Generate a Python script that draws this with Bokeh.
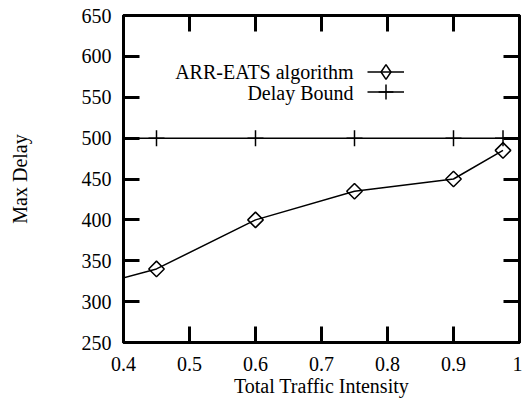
import math
from bokeh.plotting import figure
from bokeh.models import (FixedTicker, LinearAxis, Range1d, Legend, LegendItem,
                          Label, PrintfTickFormatter)
from bokeh.core.properties import value
from bokeh.embed import file_html
from bokeh.resources import INLINE

# ---- data ----
traffic = [0.3, 0.45, 0.6, 0.75, 0.9, 0.975]
max_delay = [307, 340, 400, 435, 450, 485]
bound_traffic = [0.3, 0.45, 0.6, 0.75, 0.9, 0.975, 1.05]
delay_bound = [500, 500, 500, 500, 500, 500, 500]
x_ticks = [0.4, 0.5, 0.6, 0.7, 0.8, 0.9, 1.0]
y_ticks = [250, 300, 350, 400, 450, 500, 550, 600, 650]
series_names = ["ARR-EATS algorithm", "Delay Bound"]
x_title = "Total Traffic Intensity"
y_title = "Max Delay"

FONT = "Liberation Serif"
FS = "20px"

p = figure(width=522, height=399,
           x_range=Range1d(0.4, 1.0), y_range=Range1d(250, 650),
           output_backend="svg", toolbar_location=None,
           x_axis_label=x_title, y_axis_label=y_title,
           min_border_left=123, min_border_right=3, min_border_top=15,
           min_border_bottom=55)
p.grid.visible = False
p.outline_line_color = "black"
p.outline_line_width = 3
p.background_fill_color = "white"
p.border_fill_color = "white"

top_axis = LinearAxis()
right_axis = LinearAxis()
p.add_layout(top_axis, "above")
p.add_layout(right_axis, "right")

bottom_axis = p.below[0]
left_axis = p.left[0]

for ax, ticks in ((bottom_axis, x_ticks), (top_axis, x_ticks),
                  (left_axis, y_ticks), (right_axis, y_ticks)):
    ax.ticker = FixedTicker(ticks=ticks)
    ax.formatter = PrintfTickFormatter(format="%g")
    ax.axis_line_color = "black"
    ax.axis_line_width = 3
    ax.major_tick_in = 16
    ax.major_tick_out = 0
    ax.major_tick_line_width = 3
    ax.major_tick_line_color = "black"
    ax.minor_tick_line_color = None
    ax.major_label_text_font = FONT
    ax.major_label_text_font_size = FS
    ax.major_label_text_color = "black"
    ax.axis_label_text_font = FONT
    ax.axis_label_text_font_size = FS
    ax.axis_label_text_font_style = "normal"
    ax.axis_label_text_color = "black"

# mirrored tick marks only (no labels) on top and right
for ax in (top_axis, right_axis):
    ax.formatter = PrintfTickFormatter(format="")
    ax.major_label_text_font_size = "0px"
    ax.major_label_standoff = 0

bottom_axis.major_label_standoff = 14
bottom_axis.axis_label_standoff = 1
left_axis.major_label_standoff = 12
left_axis.axis_label_standoff = 48

arr_line = p.line(traffic, max_delay, line_color="black", line_width=1.5)
arr_pts = p.scatter(traffic, max_delay, marker="square", angle=math.pi / 4,
                    size=11, fill_color=None, line_color="black", line_width=1.5)
bound_line = p.line(bound_traffic, delay_bound, line_color="black", line_width=1.5)
bound_pts = p.scatter(bound_traffic, delay_bound, marker="cross", size=16,
                      line_color="black", line_width=1.5)
# legend-only key marker (a single NaN point, never drawn in the plot area)
arr_key = p.scatter(x=[float("nan")], y=[float("nan")], marker="diamond",
                    fill_color=None, line_color="black", line_width=1.5)

common = dict(glyph_width=37, glyph_height=37, label_width=0, label_height=0,
              label_standoff=0, padding=0, margin=0, spacing=0,
              border_line_alpha=0, background_fill_alpha=0)
legend1 = Legend(items=[LegendItem(label=value(""), renderers=[arr_line, arr_key])],
                 location=(244, 252), **common)
legend2 = Legend(items=[LegendItem(label=value(""), renderers=[bound_line, bound_pts])],
                 location=(244, 232), **common)
p.add_layout(legend1)
p.add_layout(legend2)

for name, sy in zip(series_names, (270.5, 250.0)):
    p.add_layout(Label(x=230, y=sy, x_units="screen", y_units="screen",
                       text=name, text_align="right", text_baseline="middle",
                       text_font=FONT, text_font_size=FS, text_color="black"))

open("out.html", "w").write(file_html(p, INLINE))
